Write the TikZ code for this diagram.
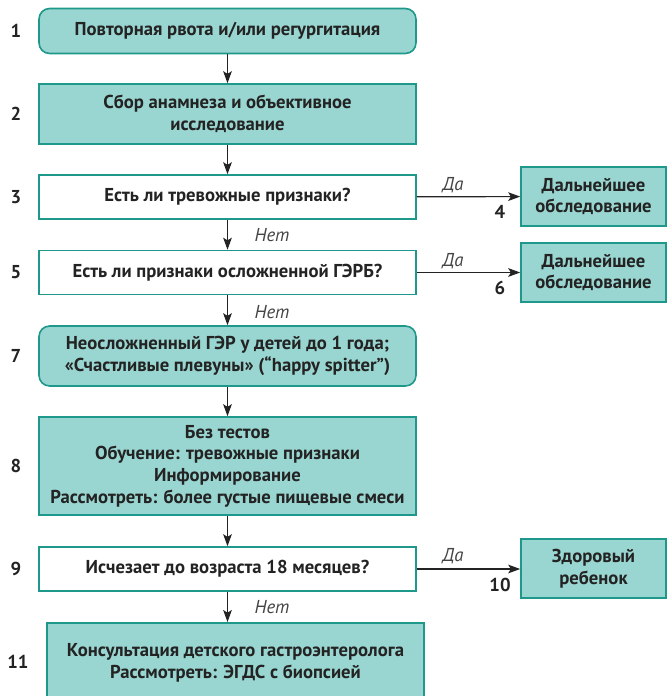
\documentclass[tikz,border=0pt]{standalone}
\usepackage{fontspec}
\setmainfont{PT Sans}
\usetikzlibrary{arrows.meta}
\definecolor{tealfill}{RGB}{154,214,209}
\definecolor{tealline}{RGB}{30,152,138}
\definecolor{inkdark}{RGB}{35,35,35}
\begin{document}
\begin{tikzpicture}[x=0.75pt,y=-0.75pt,
  every node/.style={text=inkdark},
  box/.style={draw=tealline,line width=1.2pt,fill=tealfill,align=center,
    font=\fontsize{14}{16.2}\selectfont\bfseries,inner sep=0pt},
  roundbox/.style={box,rounded corners=8pt},
  askbox/.style={box,fill=white},
  mainw/.style={minimum width=377*0.75pt},
  sidew/.style={minimum width=145*0.75pt},
  stepnum/.style={font=\fontsize{14}{16}\selectfont\bfseries},
  answer/.style={font=\fontsize{14}{16}\selectfont\itshape,text=inkdark!85},
  flow/.style={draw=inkdark,line width=0.9pt,-{Stealth[length=9pt,width=6.5pt,inset=2pt]}}
]
\useasboundingbox (0,0) rectangle (667,696);

% main column
\node[roundbox,mainw,minimum height=45*0.75pt] (b1) at (227.5,31) {Повторная рвота и/или регургитация};
\node[box,mainw,minimum height=60*0.75pt] (b2) at (227.5,114) {Сбор анамнеза и объективное\\исследование};
\node[askbox,mainw,minimum height=44*0.75pt] (b3) at (227.5,197) {Есть ли тревожные признаки?};
\node[askbox,mainw,minimum height=44*0.75pt] (b5) at (227.5,272.5) {Есть ли признаки осложненной ГЭРБ?};
\node[roundbox,mainw,minimum height=60*0.75pt] (b7) at (227.5,356) {Неосложненный ГЭР у детей до 1 года;\\«Счастливые плевуны» (“happy spitter”)};
\node[box,mainw,minimum height=98*0.75pt] (b8) at (227.5,466) {Без тестов\\Обучение: тревожные признаки\\Информирование\\Рассмотреть: более густые пищевые смеси};
\node[askbox,mainw,minimum height=44*0.75pt] (b9) at (227.5,569) {Исчезает до возраста 18 месяцев?};
\node[box,mainw,minimum height=78*0.75pt,anchor=north] (b11) at (235.5,622) {};
\node[font=\fontsize{14}{16.2}\selectfont\bfseries,align=center] (t11) at (235.5,663) {Консультация детского гастроэнтеролога\\Рассмотреть: ЭГДС с биопсией};

% side column
\node[box,sidew,minimum height=59*0.75pt] (b4) at (593.5,196.5) {Дальнейшее\\обследование};
\node[box,sidew,minimum height=59*0.75pt] (b6) at (593.5,272.5) {Дальнейшее\\обследование};
\node[box,sidew,minimum height=59*0.75pt] (b10) at (593.5,568.5) {Здоровый\\ребенок};

% step numbers
\node[stepnum] (n1) at (16,31) {1};
\node[stepnum] (n2) at (16,114) {2};
\node[stepnum] (n3) at (16,197) {3};
\node[stepnum] (n5) at (16,272.5) {5};
\node[stepnum] (n7) at (16,356) {7};
\node[stepnum] (n8) at (16,466) {8};
\node[stepnum] (n9) at (16,569) {9};
\node[stepnum] (n11) at (18,662) {11};
\node[stepnum] (n4) at (500,212) {4};
\node[stepnum] (n6) at (500,288) {6};
\node[stepnum] (n10) at (500,585) {10};

% connectors
\draw[flow] (b1) -- (b2);
\draw[flow] (b2) -- (b3);
\draw[flow] (b3) -- (b5);
\draw[flow] (b5) -- (b7);
\draw[flow] (b7) -- (b8);
\draw[flow] (b8) -- (b9);
\draw[flow] (b9.south) -- (b9.south |- b11.north);
\draw[flow] (b3) -- (b4);
\draw[flow] (b5) -- (b6);
\draw[flow] (b9.east) -- (b9.east -| b10.west);

% answers
\node[answer] (y3) at (453,185) {Да};
\node[answer] (y5) at (453,261) {Да};
\node[answer] (y9) at (453,556) {Да};
\node[answer] (no3) at (272,235) {Нет};
\node[answer] (no5) at (272,312) {Нет};
\node[answer] (no9) at (272,607) {Нет};
\end{tikzpicture}
\end{document}
